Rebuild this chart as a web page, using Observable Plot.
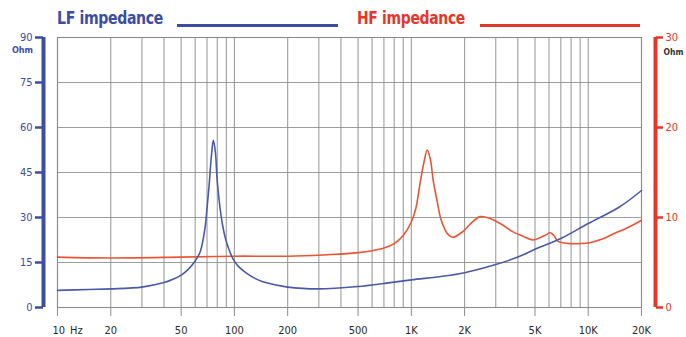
<!DOCTYPE html>
<html>
<head>
<meta charset="utf-8">
<script src="https://cdn.jsdelivr.net/npm/d3@7"></script>
<script src="https://cdn.jsdelivr.net/npm/@observablehq/plot@0.6"></script>
<style>
  html, body { margin: 0; padding: 0; background: #fff; }
  #wrap { position: relative; width: 686px; height: 337px; overflow: hidden; }
  .legtxt { position: absolute; top: 7px; white-space: nowrap;
         font-family: "Liberation Sans Narrow", "DejaVu Sans Condensed", "Roboto", sans-serif;
         font-stretch: condensed; font-weight: bold; font-size: 18px; letter-spacing: -0.4px;
         transform-origin: 0 50%; }
  .legln { position: absolute; top: 24px; height: 3px; }
  svg text { font-family: "Liberation Sans Narrow", "DejaVu Sans Condensed", "Roboto", sans-serif; }
</style>
</head>
<body>
<div id="wrap"></div>
<script>
// ---- data ----
const lfFreq = [10, 15, 20, 30, 40, 45, 50, 55, 60, 64, 68, 70, 72, 74, 76, 78, 80, 83, 86, 89, 93, 98, 105, 118, 135, 150, 200, 300, 500, 700, 1000, 1500, 2000, 3000, 4000, 5000, 7000, 10000, 15000, 20000];
const lfOhm  = [5.7, 6.0, 6.2, 6.8, 8.3, 9.4, 10.8, 12.8, 15.5, 18.5, 26, 33, 41, 50, 55.7, 52, 42, 33, 27, 23, 19.5, 16.3, 13.8, 11.3, 9.3, 8.3, 6.8, 6.2, 7.0, 8.0, 9.2, 10.4, 11.6, 14.3, 16.8, 19.4, 23, 28, 33.5, 39];

const hfFreq = [10, 20, 50, 100, 200, 300, 500, 600, 700, 800, 900, 1000, 1060, 1120, 1180, 1230, 1280, 1330, 1400, 1460, 1530, 1600, 1720, 1880, 2000, 2160, 2450, 2780, 3200, 3760, 4300, 4870, 5400, 5800, 6100, 6400, 6700, 7200, 7900, 9000, 10200, 12000, 13900, 16000, 18000, 20000];
const hfOhm  = [5.6, 5.5, 5.6, 5.7, 5.7, 5.8, 6.1, 6.3, 6.6, 7.1, 8.0, 9.5, 11, 13.8, 16.2, 17.5, 16.5, 14.1, 11.8, 10.0, 8.9, 8.2, 7.8, 8.2, 8.6, 9.3, 10.1, 9.9, 9.3, 8.4, 7.9, 7.5, 7.8, 8.1, 8.3, 8.0, 7.4, 7.2, 7.1, 7.1, 7.2, 7.6, 8.2, 8.7, 9.2, 9.7];

const xTickValues = [10, 20, 50, 100, 200, 500, 1000, 2000, 5000, 10000, 20000];
const xTickLabels = ["10", "20", "50", "100", "200", "500", "1K", "2K", "5K", "10K", "20K"];
const leftTicks  = [0, 15, 30, 45, 60, 75, 90];
const rightTickLabels = [0, 10, 20, 30];
const unitLabel = "Ohm";
const freqUnit = "Hz";
const lfName = "LF impedance";
const hfName = "HF impedance";

// ---- derived ----
const gridFreqs = [];
for (const dec of [10, 100, 1000, 10000]) for (let k = 1; k <= 9; k++) { const f = dec * k; if (f <= 20000) gridFreqs.push(f); }
const lf = lfFreq.map((f, i) => ({f, z: lfOhm[i]}));
const hf = hfFreq.map((f, i) => ({f, z: hfOhm[i]}));
const RATIO = 3; // right axis 0-30 shares the 0-90 frame
const rightTicks = rightTickLabels.map(v => v * RATIO);

const BLUE = "#3b4ea2";
const LFLINE = "#4a5aa8";
const RED = "#e5362a";
const HFLINE = "#ea5533";
const GRID = "#8c8c8c";
const TXT = "#2a2a2a";

const chart = Plot.plot({
  width: 686, height: 337,
  marginLeft: 57, marginRight: 45, marginTop: 37, marginBottom: 30,
  style: {background: "transparent", fontSize: "11px"},
  x: {type: "log", domain: [10, 20000]},
  y: {domain: [0, 90]},
  marks: [
    Plot.gridX(gridFreqs, {stroke: GRID, strokeOpacity: 0.85, strokeWidth: 1.1}),
    Plot.gridY(leftTicks, {stroke: GRID, strokeOpacity: 0.85, strokeWidth: 1.1}),
    Plot.frame({stroke: GRID, strokeWidth: 1.1}),
    // bottom axis
    Plot.axisX(xTickValues, {tickSize: 9, stroke: GRID, tickFormat: () => "", label: null}),
    Plot.text(xTickValues.slice(1), {x: d => d, y: 0, dy: 23, text: (d, i) => xTickLabels[i + 1], fill: TXT, fontSize: 11, textAnchor: "middle"}),
    Plot.text([xTickValues[0]], {x: d => d, y: 0, dy: 23, text: d => xTickLabels[0] + "\u2002" + freqUnit, fill: TXT, fontSize: 11, textAnchor: "start", dx: -5}),
    // left axis
    Plot.ruleX([10], {y1: 0, y2: 90, dx: -14, stroke: BLUE, strokeWidth: 4}),
    Plot.axisY(leftTicks, {anchor: "left", dx: -14, tickSize: 8, tickPadding: 3, color: BLUE, strokeWidth: 2.5, fontSize: 11, tickFormat: d => String(d), label: null}),
    Plot.text([90], {x: 10, y: d => d, dx: -35, dy: 13, text: () => unitLabel, fill: BLUE, fontSize: 9, fontWeight: "bold"}),
    // right axis
    Plot.ruleX([20000], {y1: 0, y2: 90, dx: 14, stroke: RED, strokeWidth: 4}),
    Plot.axisY(rightTicks, {anchor: "right", dx: 14, tickSize: 7, tickPadding: 3, color: RED, strokeWidth: 2.5, fontSize: 11, tickFormat: d => String(d / RATIO), label: null}),
    Plot.text([90], {x: 20000, y: d => d, dx: 22, dy: 15, text: () => unitLabel, fill: "#333", fontSize: 8.5, fontWeight: "bold", textAnchor: "start"}),
    // curves
    Plot.line(hf, {x: "f", y: d => d.z * RATIO, stroke: HFLINE, strokeWidth: 1.6, curve: "catmull-rom"}),
    Plot.line(lf, {x: "f", y: "z", stroke: LFLINE, strokeWidth: 1.6, curve: "catmull-rom"})
  ]
});

const wrap = document.getElementById("wrap");
wrap.appendChild(chart);

function legend(name, color, left, textW, lineLeft, lineW) {
  const s = document.createElement("div");
  s.className = "legtxt";
  s.textContent = name;
  s.style.left = left + "px";
  s.style.color = color;
  wrap.appendChild(s);
  const w = s.getBoundingClientRect().width;
  s.style.transform = `scaleX(${textW / w})`;
  const l = document.createElement("div");
  l.className = "legln";
  l.style.left = lineLeft + "px";
  l.style.width = lineW + "px";
  l.style.background = color;
  wrap.appendChild(l);
}
legend(lfName, BLUE, 57, 106, 177, 161);
legend(hfName, RED, 357, 108, 480, 160);
</script>
</body>
</html>
